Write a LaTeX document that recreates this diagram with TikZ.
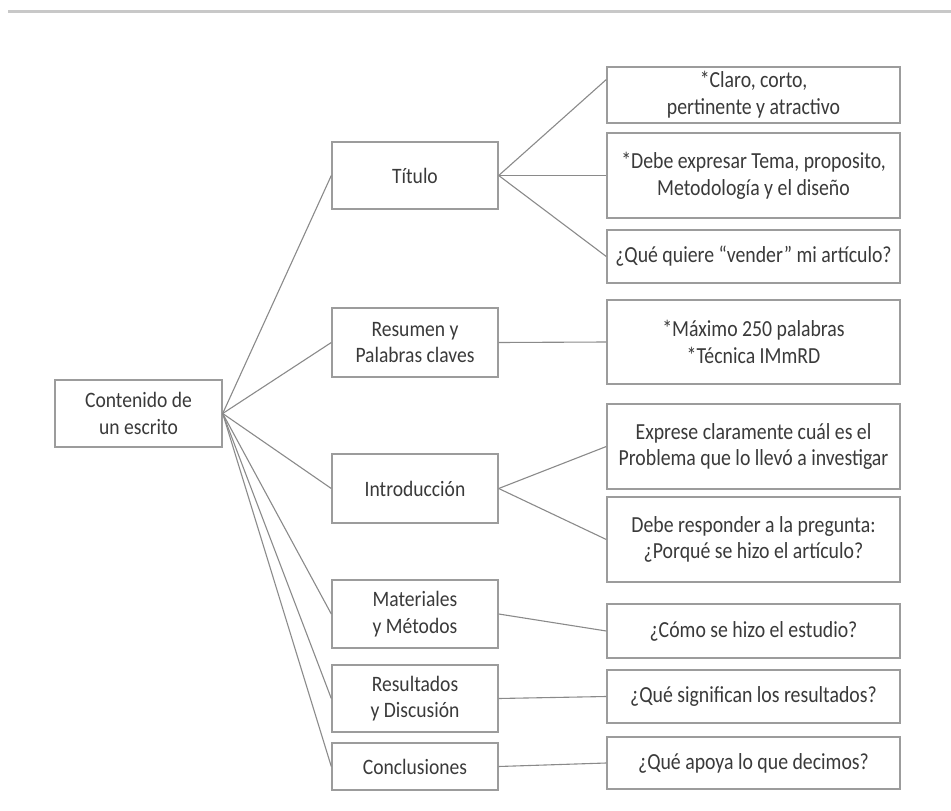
\documentclass[tikz,border=0pt]{standalone}
\usepackage{fontspec}
\newfontfamily\midfont{Carlito}[FakeStretch=0.89]
\newfontfamily\rightfont{Carlito}[FakeStretch=0.86]
\definecolor{txt}{HTML}{3A3A3A}
\definecolor{edge}{HTML}{9C9C9C}
\definecolor{conn}{HTML}{8A8A8A}
\definecolor{rule}{HTML}{C8C8C8}
\tikzset{
  box/.style={draw=edge, line width=1.4pt, fill=white, text=txt, align=center,
    inner sep=0pt, font=\midfont\fontsize{22}{26.7}\selectfont},
  midbox/.style={box, minimum width=166pt},
  rightbox/.style={box, minimum width=293pt, font=\rightfont\fontsize{23}{26.7}\selectfont},
  link/.style={draw=conn, line width=1.1pt}
}
\begin{document}
\begin{tikzpicture}[x=1pt,y=-1pt]
\useasboundingbox (0,0) rectangle (951,811);
\draw[rule, line width=3pt] (8,11) -- (951,11);

\node[box, minimum width=167pt, minimum height=67pt] (cont) at (138.5,413.5) {Contenido de\\un escrito};

\node[midbox, minimum height=67pt] (tit) at (415,175.5) {Título};
\node[midbox, minimum height=69pt] (res) at (415,342.5) {Resumen y\\Palabras claves};
\node[midbox, minimum height=69pt] (intro) at (415,488.5) {Introducción};
\node[midbox, minimum height=68pt] (mat) at (415,614) {Materiales\\y Métodos};
\node[midbox, minimum height=67pt] (resul) at (415,698.5) {Resultados\\y Discusión};
\node[midbox, minimum height=47pt] (conc) at (415,766.5) {Conclusiones};

\node[rightbox, minimum height=56pt] (r1) at (753.5,95) {*Claro, corto,\\pertinente y atractivo};
\node[rightbox, minimum height=85pt] (r2) at (753.5,175.5) {*Debe expresar Tema, proposito,\\Metodología y el diseño};
\node[rightbox, minimum height=53pt] (r3) at (753.5,256.5) {¿Qué quiere “vender” mi artículo?};
\node[rightbox, minimum height=84pt] (r4) at (753.5,342) {*Máximo 250 palabras\\*Técnica IMmRD};
\node[rightbox, minimum height=85pt] (r5) at (753.5,446.5) {Exprese claramente cuál es el\\Problema que lo llevó a investigar};
\node[rightbox, minimum height=85pt] (r6) at (753.5,539.5) {Debe responder a la pregunta:\\¿Porqué se hizo el artículo?};
\node[rightbox, minimum height=54pt] (r7) at (753.5,631) {¿Cómo se hizo el estudio?};
\node[rightbox, minimum height=53pt] (r8) at (753.5,696.5) {¿Qué significan los resultados?};
\node[rightbox, minimum height=52pt] (r9) at (753.5,763) {¿Qué apoya lo que decimos?};

\foreach \t in {tit,res,intro,mat,resul,conc}
  \draw[link] (cont.east) -- (\t.west);
\draw[link] (tit.east) -- (r1.174);
\draw[link] (tit.east) -- (r2.west);
\draw[link] (tit.east) -- (r3.west);
\draw[link] (res.east) -- (r4.west);
\draw[link] (intro.east) -- (r5.west);
\draw[link] (intro.east) -- (r6.west);
\draw[link] (mat.east) -- (r7.west);
\draw[link] (resul.east) -- (r8.west);
\draw[link] (conc.east) -- (r9.west);
\end{tikzpicture}
\end{document}
